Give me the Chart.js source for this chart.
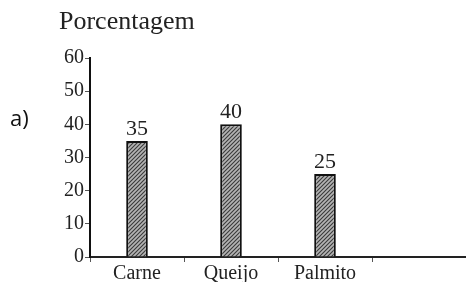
<!DOCTYPE html>
<html>
<head>
<meta charset="utf-8">
<script src="https://cdn.jsdelivr.net/npm/chart.js@4"></script>
<style>
  html, body { margin: 0; padding: 0; background: #fff; }
  #wrap { width: 466px; height: 282px; position: relative; }
</style>
</head>
<body>
<div id="wrap"><canvas id="myChart"></canvas></div>
<script>
const categories = ['Carne', 'Queijo', 'Palmito', ''];
const percentages = [35, 40, 25, null];
const yTicks = [0, 10, 20, 30, 40, 50, 60];

const serif = "'Liberation Serif', 'Times New Roman', serif";

// hatched fill like the scanned figure
function hatch() {
    let c = document.createElement('canvas');
    c.width = 4;
    c.height = 4;
    let g = c.getContext('2d');
    g.fillStyle = '#b4b4b4';
    g.fillRect(0, 0, 4, 4);
    g.strokeStyle = '#3a3a3a';
    g.lineWidth = 1.1;
    g.beginPath();
    g.moveTo(0, 4); g.lineTo(4, 0);
    g.moveTo(-1, 1); g.lineTo(1, -1);
    g.moveTo(3, 5); g.lineTo(5, 3);
    g.stroke();
    return g.createPattern(c, 'repeat');
}

const textPlugin = {
    id: 'textPlugin',
    afterDatasetsDraw(chart) {
        let c = chart.ctx;
        c.save();
        c.fillStyle = '#222';
        c.font = '22px ' + serif;
        c.textAlign = 'center';
        c.textBaseline = 'alphabetic';
        chart.getDatasetMeta(0).data.forEach(function(bar, i) {
            if (percentages[i] == null) return;
            c.fillText(String(percentages[i]), bar.x, bar.y - 6);
        });
        c.textAlign = 'left';
        c.font = '26px ' + serif;
        c.fillText('Porcentagem', 59, 29);
        c.font = "22px 'Open Sans', 'DejaVu Sans', sans-serif";
        c.fillStyle = '#111';
        c.fillText('a)', 10, 126);
        c.restore();
    }
};

let ctx = document.getElementById('myChart');

let myChart = new Chart(ctx, {
    type: 'bar',
    data: {
        labels: categories,
        datasets: [{
            data: percentages,
            backgroundColor: hatch(),
            borderColor: '#111',
            borderWidth: 2,
            categoryPercentage: 1,
            barPercentage: 0.23
        }]
    },
    options: {
        responsive: true,
        maintainAspectRatio: false,
        animation: false,
        layout: {
            padding: { top: 58, left: 57, right: 0, bottom: 0 }
        },
        plugins: {
            legend: { display: false },
            tooltip: { enabled: false },
            title: { display: false }
        },
        scales: {
            x: {
                grid: {
                    display: true,
                    drawOnChartArea: false,
                    offset: true,
                    tickLength: 5,
                    color: '#555'
                },
                border: { display: true, color: '#222', width: 2 },
                ticks: {
                    color: '#222',
                    padding: 0,
                    font: { family: serif, size: 20 }
                },
                afterFit: function(scale) { scale.height = 25; }
            },
            y: {
                min: 0,
                max: 60,
                afterBuildTicks: function(scale) {
                    scale.ticks = yTicks.map(v => ({ value: v }));
                },
                grid: {
                    display: true,
                    drawOnChartArea: false,
                    tickLength: 5,
                    color: '#555'
                },
                border: { display: true, color: '#111', width: 2 },
                ticks: {
                    color: '#222',
                    padding: 1,
                    font: { family: serif, size: 20 }
                },
                afterFit: function(scale) { scale.width = 33; }
            }
        }
    },
    plugins: [textPlugin]
});
</script>
</body>
</html>
